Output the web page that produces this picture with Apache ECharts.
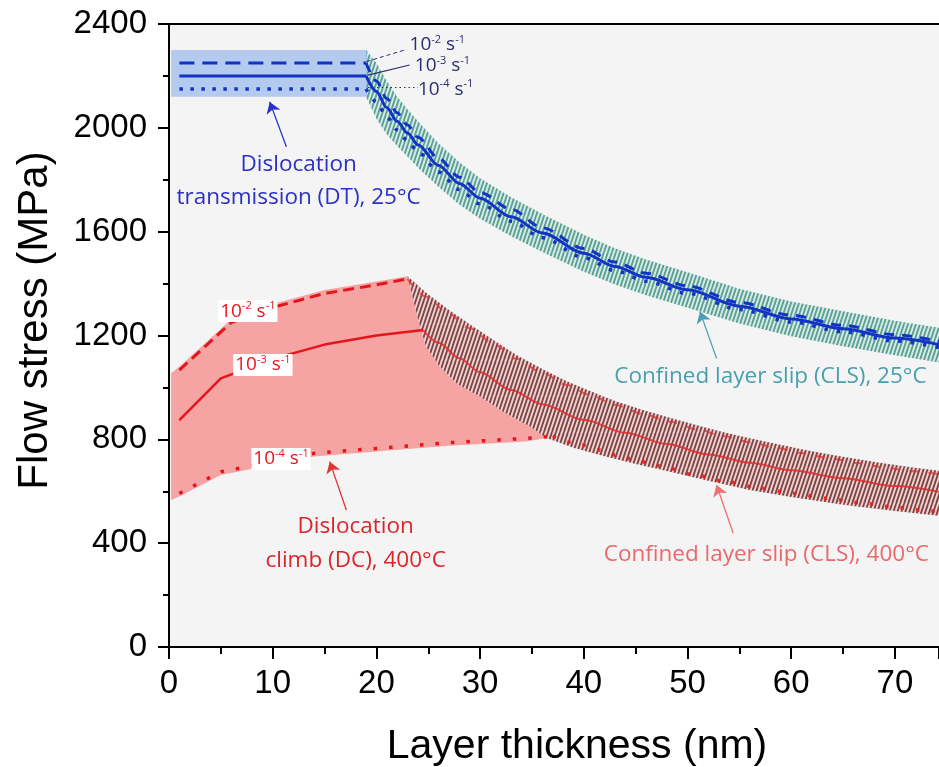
<!DOCTYPE html>
<html>
<head>
<meta charset="utf-8">
<script src="https://cdn.jsdelivr.net/npm/echarts@6/dist/echarts.min.js"></script>
<style>
  html, body { margin: 0; padding: 0; background: #ffffff; }
  #chart { width: 939px; height: 767px; }
</style>
</head>
<body>
<div id="chart"></div>
<script>
// ---------- axis ticks ----------
const xTicks = [0, 10, 20, 30, 40, 50, 60, 70];
const yTicks = [0, 400, 800, 1200, 1600, 2000, 2400];

// ---------- 25 °C : dislocation transmission (DT) plateau ----------
const dtX = [1, 19];
const dtHigh = [2250, 2250];   // 1e-2 /s
const dtMid = [2200, 2200];    // 1e-3 /s
const dtLow = [2150, 2150];    // 1e-4 /s
const dtBandX = [0.2, 19.1];
const dtBandTop = [2300, 2300];
const dtBandBottom = [2120, 2120];

// ---------- 25 °C : confined layer slip (CLS) ----------
const clsRtX = [19, 20, 21, 22, 23, 24, 26, 28, 30, 33, 36, 40, 43, 46, 50, 55, 60, 65, 70, 75];
const clsRtHigh = [2250, 2180, 2113, 2058, 2011, 1964, 1882, 1810, 1751, 1686, 1615, 1535, 1483, 1440, 1391, 1327, 1278, 1239, 1203, 1171];
const clsRtMid = [2200, 2140, 2078, 2025, 1980, 1935, 1855, 1786, 1729, 1657, 1595, 1517, 1466, 1424, 1376, 1313, 1264, 1226, 1190, 1158];
const clsRtLow = [2150, 2100, 2043, 1992, 1950, 1907, 1830, 1762, 1707, 1640, 1577, 1500, 1450, 1409, 1362, 1300, 1252, 1214, 1179, 1147];
const clsRtBandTop = [2300, 2250, 2180, 2120, 2072, 2025, 1940, 1867, 1806, 1733, 1668, 1588, 1536, 1493, 1444, 1380, 1331, 1293, 1257, 1225];
const clsRtBandBottom = [2120, 2035, 1975, 1930, 1890, 1847, 1772, 1705, 1650, 1582, 1522, 1446, 1396, 1355, 1307, 1246, 1197, 1159, 1124, 1091];

// ---------- 400 °C : dislocation climb (DC) ----------
const dcHighX = [1, 6, 10, 15, 20, 23];
const dcHigh = [1067, 1250, 1308, 1362, 1395, 1418];
const dcMidX = [1, 5, 10, 15, 20, 24.5];
const dcMid = [874, 1035, 1110, 1165, 1200, 1221];
const dcLowX = [1, 5, 10, 14, 20, 27, 34.5, 37];
const dcLow = [592, 675, 713, 746, 765, 787, 804, 812];
const dcFillTopX = [0.2, 1, 6, 10, 15, 20, 23];
const dcFillTop = [1055, 1080, 1263, 1321, 1375, 1408, 1428];
const dcFillBottomX = [0.2, 1, 5, 10, 14, 20, 27, 34.5, 36.4];
const dcFillBottom = [566, 580, 663, 702, 734, 753, 775, 792, 805];

// ---------- 400 °C : confined layer slip (CLS) ----------
const clsHtHighX = [23, 24.8, 27, 29, 31.5, 33.5, 36, 38.3, 40.6, 43, 45.7, 48.3, 51, 53.4, 56, 58.6, 61, 63.7, 66.3, 69, 71.4, 75];
const clsHtHigh = [1418, 1349, 1283, 1228, 1162, 1110, 1056, 1010, 971, 933, 898, 868, 838, 813, 789, 767, 747, 727, 709, 692, 678, 660];
const clsHtBandTop = [1428, 1365, 1298, 1243, 1177, 1125, 1071, 1025, 986, 948, 913, 883, 853, 828, 804, 782, 762, 742, 724, 707, 693, 675];
const clsHtMidX = [24.5, 26, 28, 30, 33, 36, 40, 44, 48, 52, 56, 60, 65, 70, 75];
const clsHtMid = [1221, 1172, 1112, 1058, 990, 935, 875, 825, 782, 742, 710, 681, 650, 620, 592];
const clsHtLowX = [37, 39.9, 41.5, 43, 44.4, 46, 47.5, 50.5, 53.75, 57, 60.2, 63.4, 66.6, 69.8, 72.4, 75];
const clsHtLow = [812, 778, 759, 740, 726, 712, 696, 665, 637, 612, 592, 573, 556, 540, 528, 516];
const clsHtBandBottomX = [23, 23.4, 24.2, 24.8, 26, 27.7, 30, 32.5, 34.8, 36.4, 39, 42, 45, 48, 52, 56, 60, 65, 70, 75];
const clsHtBandBottom = [1428, 1362, 1234, 1157, 1085, 1016, 964, 900, 849, 805, 768, 735, 705, 678, 640, 605, 578, 548, 524, 502];

// ---------- helpers ----------
const zip = (xs, ys) => xs.map((x, i) => [x, ys[i]]);

// Tiled canvas with steep "/" stripes, used as a hatch fill
function stripes(bg, fg, period, rise, lw) {
  const W = period * 3, H = rise * 3;
  const c = document.createElement('canvas');
  c.width = W; c.height = H;
  const g = c.getContext('2d');
  g.fillStyle = bg;
  g.fillRect(0, 0, W, H);
  g.strokeStyle = fg;
  g.lineWidth = lw;
  for (let k = -4; k <= 4; k++) {
    g.beginPath();
    g.moveTo(k * period, H);
    g.lineTo(k * period + W, 0);
    g.stroke();
  }
  return { image: c, repeat: 'repeat' };
}

function region(name, pts, fill) {
  return {
    type: 'custom', name, coordinateSystem: 'cartesian2d', clip: true, silent: true,
    data: [[0, 0]],
    renderItem: (params, api) => ({
      type: 'polygon',
      shape: { points: pts.map(p => api.coord(p)) },
      style: { fill }
    })
  };
}

function curve(name, xs, ys, color, width, type, opts) {
  return Object.assign({
    type: 'line', name, data: zip(xs, ys), showSymbol: false, silent: true,
    clip: true,
    lineStyle: { color, width, type, cap: 'butt' }
  }, opts || {});
}

const BLUE = '#1233c4';
const RED = '#e4161c';
const annFont = 'Open Sans';

// polygons
const dtBandPts = zip(dtBandX, dtBandTop).concat(zip(dtBandX, dtBandBottom).reverse());
const tealPts = zip(clsRtX, clsRtBandTop).concat(zip(clsRtX, clsRtBandBottom).reverse());
const pinkPts = zip(dcFillTopX, dcFillTop)
  .concat(zip(clsHtBandBottomX.slice(1, 10), clsHtBandBottom.slice(1, 10)))
  .concat(zip(dcFillBottomX, dcFillBottom).reverse());
const redBandPts = zip(clsHtHighX, clsHtBandTop).concat(zip(clsHtBandBottomX, clsHtBandBottom).reverse());

const tealHatch = stripes('#d7ece7', '#5c9f95', 4, 12, 1.9);
const redHatch = stripes('#f4d2d2', '#7b4646', 4, 12, 1.9);

// rate labels (superscript exponents)
const rate = (e) => '{b|10}{s|-' + e + '}{b| s}{s|-1}';
const rateRich = (color) => ({
  b: { fontFamily: annFont, fontSize: 19, color, lineHeight: 22, verticalAlign: 'middle' },
  s: { fontFamily: annFont, fontSize: 11, color, lineHeight: 11, verticalAlign: 'top' }
});

function note(x, y, text, style) {
  return {
    value: [x, y],
    label: Object.assign({
      show: true, position: 'inside', formatter: text,
      fontFamily: annFont, fontSize: 22.5, align: 'center', verticalAlign: 'middle'
    }, style)
  };
}

const notes = [
  note(12.5, 1795, 'Dislocation\ntransmission (DT), 25°C', { color: '#2b30c8', lineHeight: 33 }),
  note(18.0, 397, 'Dislocation\nclimb (DC), 400°C', { color: '#d9262b', lineHeight: 34 }),
  note(58.0, 1040, 'Confined layer slip (CLS), 25°C', { color: '#4a9fae' }),
  note(57.6, 356, 'Confined layer slip (CLS), 400°C', { color: '#e8696b' }),
  note(23.2, 2319, rate(2), { align: 'left', rich: rateRich('#2b2d6e') }),
  note(23.7, 2238, rate(3), { align: 'left', rich: rateRich('#2b2d6e') }),
  note(24.0, 2149, rate(4), { align: 'left', rich: rateRich('#2b2d6e') }),
  note(7.6, 1294, rate(2), { rich: rateRich(RED), backgroundColor: '#ffffff', padding: [0, 2, 0, 2] }),
  note(9.05, 1086, rate(3), { rich: rateRich(RED), backgroundColor: '#ffffff', padding: [0, 2, 0, 2] }),
  note(10.8, 724, rate(4), { rich: rateRich(RED), backgroundColor: '#ffffff', padding: [0, 2, 0, 2] })
];

const arrow = (from, to, color) => ({ coords: [from, to], lineStyle: { color, width: 1.3, opacity: 1 } });
const arrows = [
  arrow([11.32, 1927], [9.71, 2100], '#2b30c8'),
  arrow([17.1, 528], [15.5, 714], '#e03535'),
  arrow([52.8, 1112], [51.2, 1292], '#4aa0b0'),
  arrow([54.4, 438], [52.8, 624], '#f07070')
];
const leaders = [
  { coords: [[19.04, 2255], [22.9, 2302]], lineStyle: { color: '#2b2d6e', width: 1, type: [4, 3], opacity: 1 } },
  { coords: [[19.19, 2203], [23.2, 2242]], lineStyle: { color: '#2b2d6e', width: 1.2, type: 'solid', opacity: 1 } },
  { coords: [[19.19, 2156], [24.0, 2156]], lineStyle: { color: '#2b2d6e', width: 1, type: [1.5, 3], opacity: 1 } }
];

const axisFont = { fontFamily: 'Liberation Sans', color: '#000' };

const option = {
  animation: false,
  grid: {
    left: 169, right: 0, top: 24, bottom: 120, show: true, backgroundColor: '#f4f4f4', borderWidth: 0,
    containLabel: false, outerBoundsMode: 'none'
  },
  xAxis: [{
    type: 'value', min: 0, max: 74.25, interval: 10,
    name: 'Layer thickness (nm)', nameLocation: 'middle', nameGap: 79,
    nameTextStyle: Object.assign({ fontSize: 41, padding: [0, 0, 0, 46] }, axisFont),
    axisLine: { lineStyle: { color: '#000', width: 2 } },
    axisTick: { length: 12, lineStyle: { color: '#000', width: 2 } },
    minorTick: { show: true, splitNumber: 2, length: 7, lineStyle: { color: '#000', width: 2 } },
    splitLine: { show: false },
    axisLabel: Object.assign({ fontSize: 33, margin: 20, showMaxLabel: false,
      formatter: v => (xTicks.includes(v) ? String(v) : '') }, axisFont)
  }, {
    type: 'value', position: 'top', min: 0, max: 74.25,
    axisLine: { show: true, lineStyle: { color: '#000', width: 2 } },
    axisTick: { show: false }, axisLabel: { show: false }, splitLine: { show: false }
  }],
  yAxis: {
    type: 'value', min: 0, max: 2400, interval: 400,
    name: 'Flow stress (MPa)', nameLocation: 'middle', nameGap: 113,
    nameTextStyle: Object.assign({ fontSize: 42, padding: [0, 0, 0, 30] }, axisFont),
    axisLine: { show: true, lineStyle: { color: '#000', width: 2 } },
    axisTick: { show: true, length: 11, lineStyle: { color: '#000', width: 2 } },
    minorTick: { show: true, splitNumber: 2, length: 6, lineStyle: { color: '#000', width: 2 } },
    splitLine: { show: false },
    axisLabel: Object.assign({ fontSize: 33, margin: 22,
      formatter: v => (yTicks.includes(v) ? String(v) : '') }, axisFont)
  },
  series: [
    region('CLS band 25C', tealPts, tealHatch),
    region('DT band 25C', dtBandPts, 'rgba(140,176,236,0.62)'),
    region('DC region 400C', pinkPts, '#f5a3a3'),
    region('CLS band 400C', redBandPts, redHatch),

    curve('DC 1e-2', dcHighX, dcHigh, RED, 3, [11, 6]),
    curve('DC 1e-3', dcMidX, dcMid, RED, 2.5, 'solid'),
    curve('DC 1e-4', dcLowX, dcLow, RED, 3.5, [3.5, 12]),
    curve('CLS 400C 1e-2', clsHtHighX, clsHtHigh, 'rgba(226,50,50,0.75)', 2, [9, 10], { smooth: 0.3, smoothMonotone: 'x' }),
    curve('CLS 400C 1e-3', clsHtMidX, clsHtMid, 'rgba(226,45,45,0.85)', 2, 'solid', { smooth: 0.3, smoothMonotone: 'x' }),
    curve('CLS 400C 1e-4', clsHtLowX, clsHtLow, 'rgba(226,30,30,0.9)', 3.5, [3.5, 12], { smooth: 0.3, smoothMonotone: 'x' }),

    curve('DT 1e-2', dtX, dtHigh, BLUE, 3, [15, 8]),
    curve('DT 1e-3', dtX, dtMid, BLUE, 3, 'solid'),
    curve('DT 1e-4', dtX, dtLow, BLUE, 3.5, [3.5, 7.5]),
    curve('CLS 25C 1e-2', clsRtX, clsRtHigh, BLUE, 3, [10, 8], { smooth: 0.3, smoothMonotone: 'x' }),
    curve('CLS 25C 1e-3', clsRtX, clsRtMid, BLUE, 3, 'solid', { smooth: 0.3, smoothMonotone: 'x' }),
    curve('CLS 25C 1e-4', clsRtX, clsRtLow, BLUE, 3.5, [3.5, 9], { smooth: 0.3, smoothMonotone: 'x' }),

    {
      type: 'lines', name: 'leaders', coordinateSystem: 'cartesian2d', silent: true,
      symbol: ['none', 'none'], data: leaders
    },
    {
      type: 'lines', name: 'arrows', coordinateSystem: 'cartesian2d', silent: true,
      symbol: ['none', 'arrow'], symbolSize: 11, data: arrows
    },
    {
      type: 'scatter', name: 'notes', symbolSize: 0, silent: true, data: notes, z: 10,
      itemStyle: { opacity: 1 }
    }
  ]
};

const chart = echarts.init(document.getElementById('chart'), null, { renderer: 'canvas' });
chart.setOption(option);
</script>
</body>
</html>
